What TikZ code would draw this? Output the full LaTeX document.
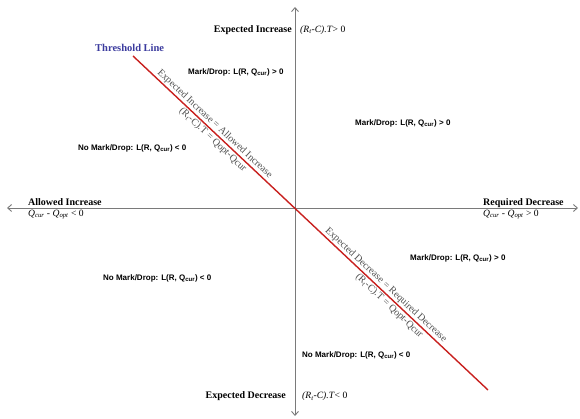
\documentclass[tikz,border=0pt]{standalone}
\usepackage{fontspec}
\setmainfont{Liberation Serif}
\setsansfont{Liberation Sans}
\usetikzlibrary{arrows.meta}
\definecolor{axisgray}{HTML}{7A7A7A}
\definecolor{thred}{HTML}{C8201E}
\definecolor{thblue}{HTML}{3B3B9E}
\definecolor{diaggray}{HTML}{505050}
\begin{document}
\begin{tikzpicture}[x=1pt,y=-1pt,
  axis/.style={draw=axisgray, line width=0.9pt,
    {Straight Barb[length=4pt,width=7pt]}-{Straight Barb[length=4pt,width=7pt]}},
  threshold/.style={draw=thred, line width=1.4pt},
  head/.style={font=\fontsize{10}{12}\selectfont\bfseries, inner sep=0pt},
  mth/.style={font=\fontsize{9.6}{11}\selectfont\itshape, inner sep=0pt},
  md/.style={font=\sffamily\bfseries\fontsize{8}{9}\selectfont, inner sep=0pt},
  diag/.style={font=\fontsize{10}{12}\selectfont, text=diaggray, sloped, inner sep=1.2pt}]
\useasboundingbox (0,0) rectangle (580,419);
% axes
\coordinate (top) at (295,7);
\coordinate (bot) at (295,416);
\coordinate (lft) at (7,208);
\coordinate (rgt) at (578,208);
\draw[axis] (bot) -- (top);
\draw[axis] (lft) -- (rgt);
% threshold line
\coordinate (thA) at (133,56);
\coordinate (thB) at (488,390);
\draw[threshold] (thA) -- (thB)
  node[diag, pos=0.218, anchor=south] (ei) {Expected Increase = Allowed Increase}
  node[diag, pos=0.237, anchor=north] (ei2) {(R\textsubscript{t}-C).T = Qopt-Qcur}
  node[diag, pos=0.700, anchor=south] (ed) {Expected Decrease = Required Decrease}
  node[diag, pos=0.734, anchor=north] (ed2) {(R\textsubscript{t}-C).T = Qopt-Qcur};
% axis labels
\node[head, anchor=base east] (expinc) at (292,32.5) {Expected Increase};
\node[mth, anchor=base west] (expincm) at (300,32.5) {(R\textsubscript{t}-C).T\textup{> 0}};
\node[head, anchor=base east] (expdec) at (286,398.5) {Expected Decrease};
\node[mth, anchor=base west] (expdecm) at (302,398.5) {(R\textsubscript{t}-C).T\textup{< 0}};
\node[head, anchor=base west] (allinc) at (28,205.5) {Allowed Increase};
\node[mth, anchor=base west] (allincm) at (28,216.5) {Q\textsubscript{cur} - Q\textsubscript{opt} \textup{< 0}};
\node[head, anchor=base west] (reqdec) at (483,205.5) {Required Decrease};
\node[mth, anchor=base west] (reqdecm) at (483,216.5) {Q\textsubscript{cur} - Q\textsubscript{opt} \textup{> 0}};
\node[head, anchor=base west, text=thblue, font=\fontsize{10.5}{12}\selectfont\bfseries] (thl) at (95,51.5) {Threshold Line};
% mark/drop labels
\node[md, anchor=base west] (m1) at (188,74.5) {Mark/Drop: L(R, Q\textsubscript{cur}) > 0};
\node[md, anchor=base west] (m2) at (355,125.5) {Mark/Drop: L(R, Q\textsubscript{cur}) > 0};
\node[md, anchor=base west] (n1) at (78,150.5) {No Mark/Drop: L(R, Q\textsubscript{cur}) < 0};
\node[md, anchor=base west] (n2) at (103,280.5) {No Mark/Drop: L(R, Q\textsubscript{cur}) < 0};
\node[md, anchor=base west] (m3) at (410,260.5) {Mark/Drop: L(R, Q\textsubscript{cur}) > 0};
\node[md, anchor=base west] (n3) at (302,357.5) {No Mark/Drop: L(R, Q\textsubscript{cur}) < 0};
\end{tikzpicture}
\end{document}
